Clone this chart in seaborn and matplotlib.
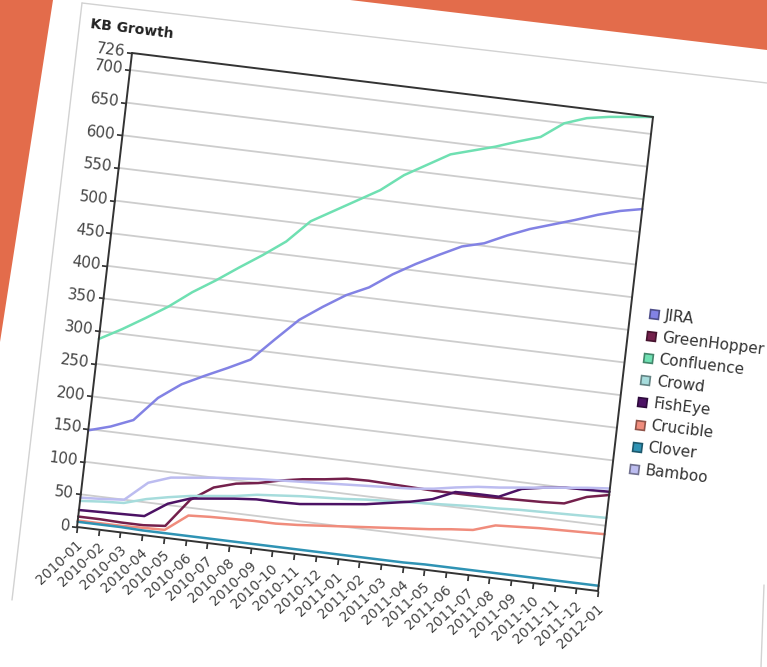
import numpy as np
import pandas as pd
import matplotlib
matplotlib.use("Agg")
import matplotlib.pyplot as plt
import seaborn as sns
from matplotlib.lines import Line2D
from matplotlib.patches import Polygon
from matplotlib.transforms import Affine2D
from matplotlib.colors import to_rgb
import mpl_toolkits.axisartist.floating_axes as floating_axes
from mpl_toolkits.axisartist.grid_finder import FixedLocator, DictFormatter

# monthly KB article counts
months = pd.date_range("2010-01-01", periods=25, freq="MS").strftime("%Y-%m").tolist()
products = ["JIRA", "GreenHopper", "Confluence", "Crowd", "FishEye", "Crucible", "Clover", "Bamboo"]

jira        = [148, 158, 172, 210, 235, 252, 268, 285, 320, 354, 378, 400, 416, 440, 460, 478, 495, 504, 520, 534, 545, 556, 568, 578, 585]
greenhopper = [16, 16, 15, 15, 18, 62, 85, 95, 100, 108, 114, 118, 123, 124, 123, 122, 121, 121, 121, 122, 123, 124, 126, 140, 147]
confluence  = [288, 307, 328, 350, 376, 398, 422, 445, 470, 505, 525, 545, 565, 592, 612, 632, 642, 652, 664, 675, 700, 712, 718, 722, 726]
crowd       = [40, 43, 45, 55, 62, 68, 72, 76, 82, 85, 88, 90, 92, 95, 97, 99, 101, 103, 105, 106, 108, 109, 110, 111, 112]
fisheye     = [26, 27, 28, 29, 52, 64, 68, 72, 75, 75, 76, 80, 84, 88, 94, 100, 108, 123, 124, 124, 140, 146, 150, 151, 152]
crucible    = [10, 10, 10, 11, 12, 38, 40, 41, 42, 42, 44, 47, 50, 53, 56, 59, 62, 66, 69, 80, 82, 84, 85, 86, 87]
clover      = [8, 8, 8, 7, 7, 7, 7, 7, 7, 7, 7, 7, 7, 7, 7, 7, 8, 8, 8, 8, 8, 8, 8, 8, 8]
bamboo      = [45, 47, 50, 80, 92, 96, 100, 103, 106, 108, 110, 112, 114, 116, 118, 120, 124, 130, 135, 138, 142, 146, 150, 154, 157]

y_ticks = [0, 50, 100, 150, 200, 250, 300, 350, 400, 450, 500, 550, 600, 650, 700, 726]
y_top = 726

colors = {
    "JIRA": "#8282e4",
    "GreenHopper": "#74204c",
    "Confluence": "#6fe0b2",
    "Crowd": "#a6dcdc",
    "FishEye": "#4c1264",
    "Crucible": "#f08c7c",
    "Clover": "#2f93b4",
    "Bamboo": "#bcbcf0",
}

df = pd.DataFrame({"month": np.arange(len(months)), "JIRA": jira, "GreenHopper": greenhopper,
                   "Confluence": confluence, "Crowd": crowd, "FishEye": fisheye,
                   "Crucible": crucible, "Clover": clover, "Bamboo": bamboo})
long_df = df.melt(id_vars="month", var_name="product", value_name="kb")

sns.set_theme(style="white")
plt.rcParams["font.family"] = ["DejaVu Sans"]

W, H = 767, 667
fig = plt.figure(figsize=(W / 100, H / 100), dpi=100, facecolor="white")


def fpos(x, y):
    # photo pixel (y down) -> figure fraction
    return x / W, 1 - y / H


# orange backdrop and the edges of the tilted card
for pts in ([(0, 0), (53, 0), (0, 342)], [(350, 0), (767, 0), (767, 50)]):
    fig.add_artist(Polygon([fpos(*p) for p in pts], closed=True, transform=fig.transFigure,
                           facecolor="#e36c4b", edgecolor="none"))
for (x0, y0), (x1, y1) in [((82, 3), (767, 83)), ((82, 3), (12, 600)), ((764, 585), (761, 667))]:
    a, b = fpos(x0, y0), fpos(x1, y1)
    fig.add_artist(Line2D([a[0], b[0]], [a[1], b[1]], transform=fig.transFigure,
                          color="#d2d2d2", lw=1.0))

# plot frame corners in the photo (pixels, y up)
bl = np.array([77.0, H - 527.0])
br = np.array([598.0, H - 591.0])
tl = np.array([132.0, H - 53.0])
n = len(months) - 1
ex = (br - bl) / n
ey = (tl - bl) / y_top
tilt = np.degrees(np.arctan2(-ex[1], ex[0]))
tr = Affine2D.from_values(ex[0], ex[1], ey[0], ey[1], bl[0], bl[1])

gh = floating_axes.GridHelperCurveLinear(
    tr, extremes=(0, n, 0, y_top),
    grid_locator1=FixedLocator(list(range(len(months)))),
    tick_formatter1=DictFormatter(dict(enumerate(months))),
    grid_locator2=FixedLocator(y_ticks),
    tick_formatter2=DictFormatter({v: str(v) for v in y_ticks}))
ax = fig.add_axes([0, 0, 1, 1], axes_class=floating_axes.FloatingAxes, grid_helper=gh)
ax.set_xlim(0, W)
ax.set_ylim(0, H)
ax.patch.set_facecolor("white")

for side in ["left", "right", "top", "bottom"]:
    ax.axis[side].line.set_color("#333333")
    ax.axis[side].line.set_linewidth(1.4)
for side in ["top", "right"]:
    ax.axis[side].toggle(ticks=False, ticklabels=False)
for side in ["left", "bottom"]:
    ax.axis[side].major_ticks.set_tick_out(True)
    ax.axis[side].major_ticks.set_ticksize(4)
    ax.axis[side].major_ticks.set_color("#333333")
    ax.axis[side].major_ticklabels.set_color("#444444")
ax.axis["left"].major_ticklabels.set_fontsize(11)
ax.axis["left"].major_ticklabels.set_pad(1)
ax.axis["bottom"].major_ticklabels.set_fontsize(10)
ax.axis["bottom"].major_ticklabels.set_rotation(50)
ax.axis["bottom"].major_ticklabels.set_ha("right")
ax.axis["bottom"].major_ticklabels.set_va("top")
ax.grid(True, axis="y", color="#cdcdcd", linewidth=1.3)

aux = ax.get_aux_axes(tr)
sns.lineplot(data=long_df, x="month", y="kb", hue="product", hue_order=products,
             palette=colors, linewidth=1.8, legend=False, estimator=None, sort=False, ax=aux)

# title and legend, tilted with the card
fig.text(*fpos(90, 28), "KB Growth", fontsize=10, fontweight="bold", color="#222222",
         rotation=-tilt, rotation_mode="anchor", ha="left", va="baseline")

t = np.radians(tilt)
for k, name in enumerate(products):
    cx, cy = 654 - 2.9 * k, 314 + 22.1 * k
    edge = tuple(0.6 * c for c in to_rgb(colors[name]))
    mx, my = fpos(cx, cy)
    fig.add_artist(Line2D([mx], [my], transform=fig.transFigure, marker=(4, 0, 45 - tilt),
                          markersize=9, markerfacecolor=colors[name], markeredgecolor=edge,
                          markeredgewidth=1.2, linestyle="none"))
    tx, ty = cx + 11 * np.cos(t), cy + 11 * np.sin(t)
    fig.text(*fpos(tx, ty), name, fontsize=11, color="#333333",
             rotation=-tilt, rotation_mode="anchor", ha="left", va="center")

fig.savefig("out.png", dpi=100, facecolor="white")
